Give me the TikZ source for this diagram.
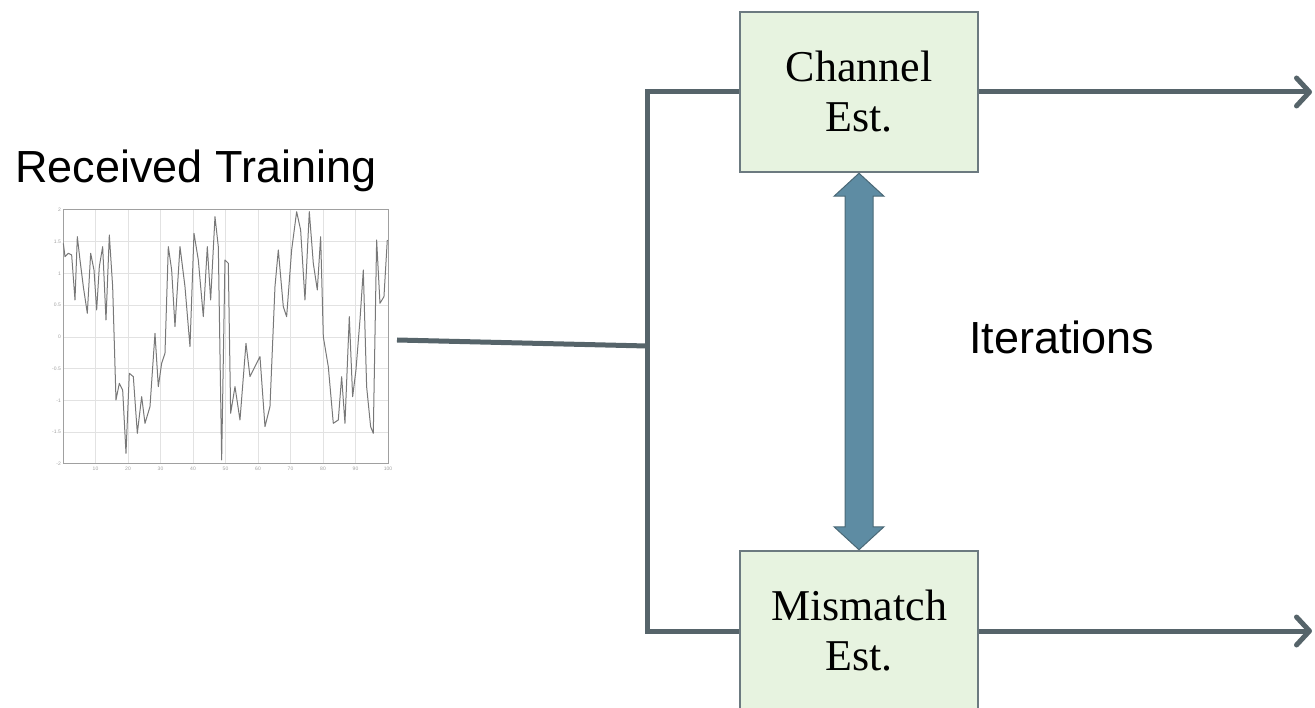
\documentclass[tikz,border=0pt]{standalone}
\usepackage{fontspec}
\setmainfont{Liberation Serif}
\newfontfamily\labelfont{Liberation Sans}
\usetikzlibrary{arrows.meta,calc}

\definecolor{wire}{RGB}{86,100,106}
\definecolor{boxfill}{RGB}{231,243,224}
\definecolor{boxedge}{RGB}{108,122,128}
\definecolor{fatfill}{RGB}{94,140,163}
\definecolor{fatedge}{RGB}{74,104,118}
\definecolor{gridc}{RGB}{226,226,226}
\definecolor{framec}{RGB}{160,160,160}
\definecolor{tracec}{RGB}{120,120,120}

\tikzset{
  conn/.style={draw=wire, line width=5pt, line join=miter},
  estbox/.style={draw=boxedge, line width=2.5pt, fill=boxfill,
    minimum width=238pt, minimum height=160pt, inner sep=0pt,
    align=center, font=\fontsize{44}{50}\selectfont},
  biglabel/.style={font=\labelfont\fontsize{45}{54}\selectfont, inner sep=0pt},
  fat/.style={fill=fatfill, draw=fatedge, line width=1pt, line join=miter},
  tick/.style={font=\labelfont\fontsize{5}{6}\selectfont, text=framec, inner sep=1pt},
  outtip/.style={-{Straight Barb[length=13pt,width=28pt,round]}}
}

\begin{document}
\begin{tikzpicture}[x=1pt,y=-1pt]
\useasboundingbox (0,0) rectangle (1315,708);
\clip (0,0) rectangle (1315,708);

% --- received training waveform -------------------------------------------
\node[biglabel, anchor=base west] (title) at (15,183) {Received Training};

\foreach \k in {1,...,9} \draw[gridc, line width=0.8pt] ({63+32.5*\k},210) -- ({63+32.5*\k},464);
\foreach \k in {1,...,7} \draw[gridc, line width=0.8pt] (63,{210+31.75*\k}) -- (388,{210+31.75*\k});
\draw[framec, line width=1pt] (63,210) rectangle (388,464);
\foreach \v [count=\k from 0] in {2,1.5,1,0.5,0,-0.5,-1,-1.5,-2}
  \node[tick, anchor=east] at (62,{210+31.75*\k}) {\v};
\foreach \v [count=\k] in {10,20,30,40,50,60,70,80,90,100}
  \node[tick, anchor=north] at ({63+32.5*\k},466) {\v};

\begin{scope}[shift={(30,220)}, x=0.3333pt, y=-0.3333pt]
\draw[tracec, line width=1pt, line join=round] plot coordinates {
 (100,70) (105,110) (115,100) (125,105) (135,240) (142,50) (150,120)
 (160,200) (172,280) (182,100) (192,150) (200,270) (208,140) (218,80)
 (228,300) (238,45) (248,200) (258,540) (268,490) (278,510) (288,700)
 (298,460) (310,470) (322,640) (335,530) (345,610) (360,560) (375,340)
 (385,500) (395,430) (405,400) (415,80) (425,150) (435,320) (450,80)
 (465,200) (480,380) (492,40) (505,120) (520,290) (532,80) (542,240)
 (555,-10) (565,80) (575,720) (585,120) (595,130) (602,580) (615,500)
 (630,600) (648,370) (660,470) (675,440) (690,410) (705,620) (720,560)
 (735,200) (745,90) (760,260) (770,290) (785,90) (800,-25) (812,30)
 (825,240) (838,-25) (850,130) (862,210) (872,50) (880,350) (895,440)
 (910,610) (925,600) (935,470) (945,610) (958,290) (968,530) (978,450)
 (990,300) (1000,150) (1010,500) (1022,620) (1030,640) (1040,60)
 (1050,250) (1062,230) (1072,60)};
\end{scope}

% --- estimator blocks -----------------------------------------------------
\node[estbox] (chan) at (859,92) {Channel\\Est.};
\node[estbox] (mism) at (859,631) {Mismatch\\Est.};

% --- wiring -----------------------------------------------------------------
\coordinate (sig) at (397,340);
\coordinate (bus) at (647,346);
\coordinate (outA) at (1312,92);
\coordinate (outB) at (1312,631);

\draw[conn] (sig) -- (bus);
\draw[conn] (chan.west) -| (bus) |- (mism.west);
\draw[conn, outtip] (chan.east) -- (outA);
\draw[conn, outtip] (mism.east) -- (outB);

% --- iteration double arrow ----------------------------------------------
\draw[fat] (chan.south) -- ($(chan.south)+(25,23)$) -- ($(chan.south)+(14,23)$)
  -- ($(mism.north)+(14,-23)$) -- ($(mism.north)+(25,-23)$) -- (mism.north)
  -- ($(mism.north)+(-25,-23)$) -- ($(mism.north)+(-14,-23)$)
  -- ($(chan.south)+(-14,23)$) -- ($(chan.south)+(-25,23)$) -- cycle;

\node[biglabel, anchor=base west] (iter) at (969,354) {Iterations};
\end{tikzpicture}
\end{document}
